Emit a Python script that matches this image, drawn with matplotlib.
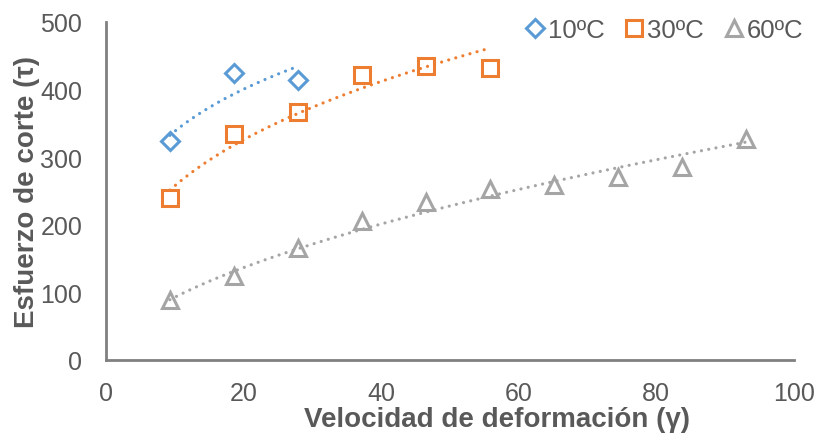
import numpy as np
import matplotlib
matplotlib.use("Agg")
import matplotlib.pyplot as plt

# Datos: velocidad de deformación vs esfuerzo de corte
vel_10 = [9.3, 18.6, 27.9]
esf_10 = [323, 424, 414]

vel_30 = [9.3, 18.6, 27.9, 37.2, 46.5, 55.8]
esf_30 = [240, 334, 367, 422, 435, 432]

vel_60 = [9.3, 18.6, 27.9, 37.2, 46.5, 55.8, 65.1, 74.4, 83.7, 93.0]
esf_60 = [88, 124, 166, 205, 234, 253, 258, 271, 286, 326]

series = [
    ("10ºC", vel_10, esf_10, "#5B9BD5", "D", 9.2),
    ("30ºC", vel_30, esf_30, "#ED7D31", "s", 11.0),
    ("60ºC", vel_60, esf_60, "#A5A5A5", "^", 11.5),
]

plt.rcParams["font.family"] = ["Liberation Sans", "DejaVu Sans"]
txt = "#595959"

fig = plt.figure(figsize=(8.21, 4.39), dpi=100)
ax = fig.add_axes([0.129, 0.178, 0.838, 0.770])

for nombre, x, y, col, mk, ms in series:
    x = np.array(x)
    y = np.array(y)
    ax.plot(x, y, linestyle="none", marker=mk, markersize=ms,
            markerfacecolor="none", markeredgecolor=col, markeredgewidth=2.2,
            label=nombre, zorder=3)
    # línea de tendencia potencial (ajuste y = a*x^b)
    b, lna = np.polyfit(np.log(x), np.log(y), 1)
    xs = np.linspace(x.min(), x.max(), 200)
    ax.plot(xs, np.exp(lna) * xs ** b, color=col, linewidth=2.3,
            linestyle=(0, (0.01, 2.3)), dash_capstyle="round", zorder=2)

ax.set_xlim(0, 100)
ax.set_ylim(0, 500)
ax.set_xticks([0, 20, 40, 60, 80, 100])
ax.set_yticks([0, 100, 200, 300, 400, 500])
ax.tick_params(length=0, labelsize=18, labelcolor=txt)
ax.tick_params(axis="y", pad=17)
ax.tick_params(axis="x", pad=15)

for s in ["top", "right"]:
    ax.spines[s].set_visible(False)
for s in ["left", "bottom"]:
    ax.spines[s].set_color("#808080")
    ax.spines[s].set_linewidth(2.0)

ax.set_xlabel("Velocidad de deformación (γ)", fontsize=20, fontweight="bold",
              color=txt)
ax.xaxis.set_label_coords(0.568, -0.137)
ax.set_ylabel("Esfuerzo de corte (τ)", fontsize=20, fontweight="bold",
              color=txt, labelpad=0)

fig.legend(loc="upper right", bbox_to_anchor=(1.0, 0.998), ncol=3,
           frameon=False, fontsize=18.5, labelcolor=txt, handlelength=0.8,
           handletextpad=0.1, columnspacing=0.75, borderaxespad=0.3)

fig.savefig("out.png", dpi=100)
